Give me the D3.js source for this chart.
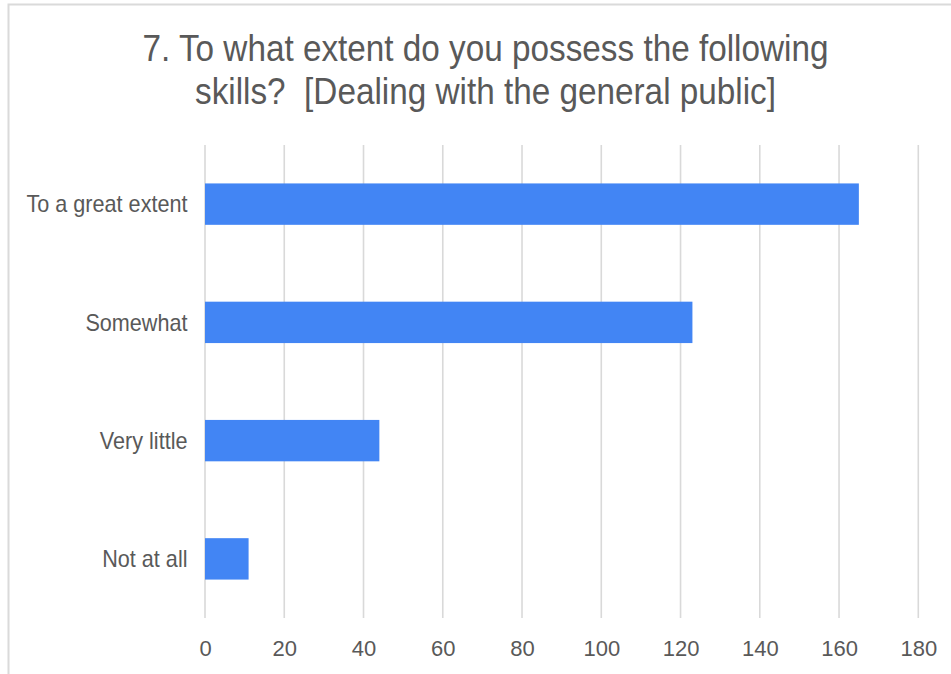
<!DOCTYPE html>
<html>
<head>
<meta charset="utf-8">
<script src="https://cdn.jsdelivr.net/npm/d3@7"></script>
<style>
  html, body { margin: 0; padding: 0; background: #fff; }
  svg { display: block; }
  text { font-family: "Liberation Sans", Arial, sans-serif; fill: #595959; white-space: pre; }
</style>
</head>
<body>
<svg id="chart" width="951" height="674"></svg>
<script>
// Survey answers and their response counts
const categories = ["To a great extent", "Somewhat", "Very little", "Not at all"];
const counts = [165, 123, 44, 11];
const tickValues = [0, 20, 40, 60, 80, 100, 120, 140, 160, 180];
const titleLines = ["7. To what extent do you possess the following", "skills?  [Dealing with the general public]"];

const svg = d3.select("#chart");
const W = 951, H = 674;
const plot = { left: 205, right: 918.3, top: 145, bottom: 618 };

// Card outline (top and left edges visible in the frame)
svg.append("path")
  .attr("d", `M8.5,${H} L8.5,4.5 L${W},4.5`)
  .attr("fill", "none")
  .attr("stroke", "#dadada")
  .attr("stroke-width", 2);

// Title, two centred lines in a condensed face
const title = svg.append("g").attr("transform", "translate(485.5,0) scale(0.9,1)");
title.selectAll("text")
  .data(titleLines)
  .join("text")
  .attr("x", 0)
  .attr("y", (d, i) => 61 + i * 43)
  .attr("text-anchor", "middle")
  .attr("font-size", 37)
  .attr("xml:space", "preserve")
  .text(d => d);

const x = d3.scaleLinear().domain([0, 180]).range([plot.left, plot.right]);
const y = d3.scaleBand()
  .domain(categories)
  .range([plot.top, plot.bottom])
  .paddingInner(0.65)
  .paddingOuter(0.325);

// Vertical gridlines
svg.append("g")
  .selectAll("line")
  .data(tickValues)
  .join("line")
  .attr("x1", d => x(d))
  .attr("x2", d => x(d))
  .attr("y1", plot.top)
  .attr("y2", plot.bottom)
  .attr("stroke", "#d9d9d9")
  .attr("stroke-width", 1.6);

// Bars
svg.append("g")
  .selectAll("rect")
  .data(categories)
  .join("rect")
  .attr("x", x(0))
  .attr("y", d => y(d))
  .attr("width", (d, i) => x(counts[i]) - x(0))
  .attr("height", y.bandwidth())
  .attr("fill", "#4285f4");

// Category labels
svg.append("g")
  .selectAll("text")
  .data(categories)
  .join("text")
  .attr("transform", d => `translate(187.5,${y(d) + y.bandwidth() / 2}) scale(0.94,1)`)
  .attr("text-anchor", "end")
  .attr("dy", "0.36em")
  .attr("font-size", 23)
  .text(d => d);

// Value axis along the bottom
const axis = svg.append("g")
  .attr("transform", `translate(0,${plot.bottom})`)
  .call(d3.axisBottom(x).tickValues(tickValues).tickSize(0).tickPadding(22).tickFormat(d3.format("d")));
axis.select(".domain").remove();
axis.selectAll("text")
  .attr("font-size", 22)
  .attr("font-family", "'Liberation Sans', Arial, sans-serif")
  .attr("fill", "#595959");
</script>
</body>
</html>
